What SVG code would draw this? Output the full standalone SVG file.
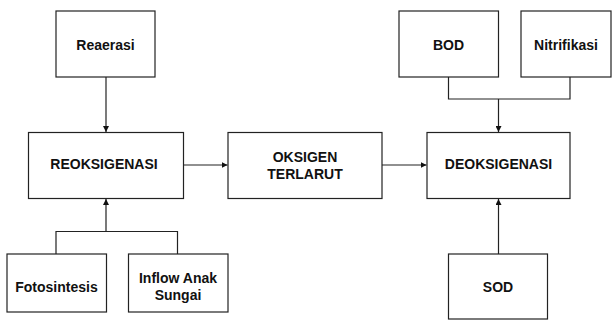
<svg xmlns="http://www.w3.org/2000/svg" width="616" height="321" viewBox="0 0 616 321">
<style>
.box{fill:#fff;stroke:#222;stroke-width:1.2}
.t{font-family:"Liberation Sans",Arial,sans-serif;font-weight:bold;font-size:14px;fill:#111;text-anchor:middle}
.c{fill:none;stroke:#222;stroke-width:1.2}
</style>
<defs>
<marker id="ah" viewBox="0 0 10 10" refX="10" refY="5" markerWidth="6" markerHeight="6" markerUnits="userSpaceOnUse" orient="auto">
<path d="M0,0 L10,5 L0,10 Z" fill="#111"/>
</marker>
</defs>
<rect width="616" height="321" fill="#fff"/>
<g id="connectors">
<path class="c" d="M106,77 V132" marker-end="url(#ah)"/>
<path class="c" d="M56,254 V231.5 H177.5 V254 M106,231.5 V199" marker-end="url(#ah)"/>
<path class="c" d="M183,165 H227.5" marker-end="url(#ah)"/>
<path class="c" d="M382,165 H426.5" marker-end="url(#ah)"/>
<path class="c" d="M448.5,77 V99 H570 V77 M498.5,99 V132" marker-end="url(#ah)"/>
<path class="c" d="M498.5,254 V199" marker-end="url(#ah)"/>
</g>
<g id="reaerasi"><rect class="box" x="56" y="11" width="99" height="66"/><text class="t" x="105.5" y="49.5">Reaerasi</text></g>
<g id="reoksigenasi"><rect class="box" x="28.5" y="132.5" width="155" height="66"/><text class="t" x="104" y="169">REOKSIGENASI</text></g>
<g id="oksigen"><rect class="box" x="228" y="132.5" width="154" height="66"/><text class="t" x="305" y="162">OKSIGEN</text><text class="t" x="305" y="179">TERLARUT</text></g>
<g id="deoksigenasi"><rect class="box" x="427" y="132.5" width="143" height="66"/><text class="t" x="498.5" y="169">DEOKSIGENASI</text></g>
<g id="bod"><rect class="box" x="399" y="11" width="99.5" height="66"/><text class="t" x="448.5" y="49.5">BOD</text></g>
<g id="nitrifikasi"><rect class="box" x="521" y="11" width="90" height="66"/><text class="t" x="566" y="49.5">Nitrifikasi</text></g>
<g id="fotosintesis"><rect class="box" x="7" y="254" width="99.5" height="58"/><text class="t" x="56.5" y="291.5">Fotosintesis</text></g>
<g id="inflow"><rect class="box" x="128.5" y="254" width="99.5" height="58"/><text class="t" x="178" y="283">Inflow Anak</text><text class="t" x="178" y="300">Sungai</text></g>
<g id="sod"><rect class="box" x="448.5" y="254" width="99" height="65"/><text class="t" x="498" y="292">SOD</text></g>
</svg>
